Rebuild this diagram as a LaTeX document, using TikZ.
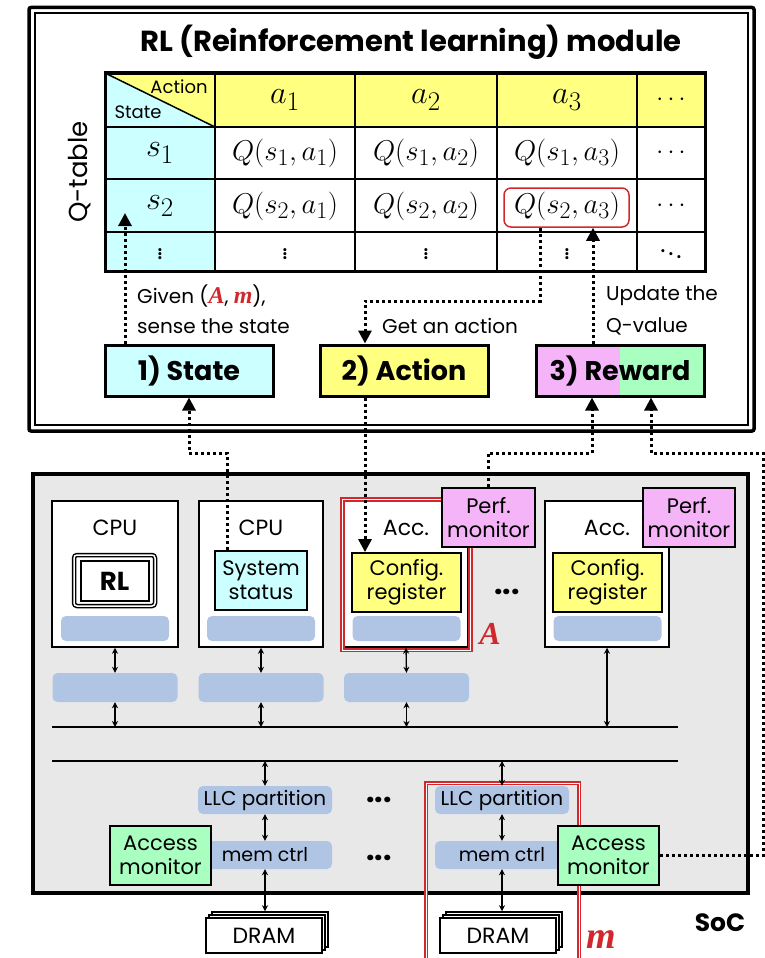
\documentclass[tikz,border=0pt]{standalone}
\usepackage[no-math]{fontspec}
\setmainfont{Poppins}
\newfontfamily\hlfont{Liberation Serif}
\usetikzlibrary{arrows.meta, shadows}

\definecolor{qcyan}{HTML}{CCFFFF}
\definecolor{qyellow}{HTML}{FFFF80}
\definecolor{qpink}{HTML}{F5B3F8}
\definecolor{qgreen}{HTML}{A8FFC0}
\definecolor{slotblue}{HTML}{B0C4E4}
\definecolor{socgray}{HTML}{E8E8E8}
\definecolor{hlred}{HTML}{D0282C}

\newcommand{\redvar}[1]{{\color{hlred}\fontsize{24}{24}\hlfont\bfseries\itshape #1}}

\begin{document}
\begin{tikzpicture}[x=1pt, y=-1pt,
  flow/.style={line width=3pt, dash pattern=on 3pt off 3pt, -{Triangle[length=13pt, width=13pt]}},
  link/.style={line width=1.3pt, {Stealth[length=6pt, width=6pt]}-{Stealth[length=6pt, width=6pt]}},
  modbox/.style={draw, line width=3pt, minimum width=168, minimum height=51, inner sep=0pt,
    font=\fontsize{27}{30}\selectfont\bfseries},
  unit/.style={draw, line width=1.5pt, fill=white, minimum height=146, inner sep=0pt},
  small/.style={draw, line width=1.8pt, minimum height=59, inner sep=0pt, align=center,
    font=\fontsize{21}{24}\selectfont},
  slot/.style={fill=slotblue, rounded corners=5pt, minimum height=25, inner sep=0pt},
  txt/.style={anchor=west, inner sep=0pt, font=\fontsize{20}{22}\selectfont},
  cell/.style={font=\fontsize{24.88}{28}\selectfont},
  hlframe/.style={draw=hlred, line width=1.8pt, double=white, double distance=0.8pt}]
  \useasboundingbox (0,0) rectangle (765,958);

  % RL module
  \draw[line width=3.5pt, rounded corners=2pt] (29,7.5) rectangle (754,431);
  \draw[line width=2pt] (35,13.5) rectangle (748,425);
  \node[font=\fontsize{29}{32}\selectfont\bfseries] (title) at (411,42) {RL (Reinforcement learning) module};

  % Q-table
  \fill[qyellow] (105,73) rectangle (705,127);
  \fill[qcyan] (105,127) rectangle (215,271);
  \fill[qcyan] (105,73) -- (215,127) -- (105,127) -- cycle;
  \draw[line width=1.5pt] (105,73) -- (215,127);
  \foreach \x in {215,355,497,637} \draw[line width=2.5pt] (\x,73) -- (\x,271);
  \foreach \y in {127,179,232} \draw[line width=2.5pt] (105,\y) -- (705,\y);
  \draw[line width=3pt] (105,73) rectangle (705,271);
  \node[font=\fontsize{18}{20}\selectfont] (acthead) at (179,87) {Action};
  \node[font=\fontsize{18}{20}\selectfont] (statehead) at (138,112) {State};
  \node[rotate=90, font=\fontsize{26}{28}\selectfont] (qtab) at (80,172) {Q-table};

  \foreach \c/\x in {1/285,2/426,3/567}
    \node[cell] (a\c) at (\x,100) {\scalebox{1.3}{$a_\c$}};
  \foreach \r/\y in {1/153,2/206} {
    \node[cell] (s\r) at (160,\y) {\scalebox{1.3}{$s_\r$}};
    \foreach \c/\x in {1/285,2/426,3/567}
      \node[cell] (q\r\c) at (\x,\y) {\scalebox{1.15}{$Q(s_\r,a_\c)$}};
  }
  \foreach \y in {100,153,206} \node[cell] (hd\y) at (671,\y) {$\cdots$};
  \foreach \x in {160,285,426,567} \node[cell] (vd\x) at (\x,251) {$\vdots$};
  \node[cell] (dd) at (671,251) {$\ddots$};
  \node[draw=hlred, line width=1.5pt, rounded corners=7pt, minimum width=125, minimum height=39,
    inner sep=0pt] (pick) at (566.5,207.5) {};

  % steps
  \node[modbox, fill=qcyan] (state) at (189,370.5) {1) State};
  \node[modbox, fill=qyellow] (action) at (404,370.5) {2) Action};
  \node[modbox, fill=qpink, path picture={\fill[qgreen] (path picture bounding box.north)
    rectangle (path picture bounding box.south east);}] (reward) at (620,370.5) {3) Reward};

  \node[txt] (given) at (137,296) {Given (\redvar{A}, \redvar{m}),};
  \node[txt] (sense) at (137,326) {sense the state};
  \node[txt] (getact) at (382,326) {Get an action};
  \node[txt] (upd1) at (606,296) {Update the};
  \node[txt] (upd2) at (606,326) {Q-value};

  \coordinate (s2tip) at (125,213);
  \draw[flow] (state.north -| s2tip) -- (s2tip);
  \coordinate (pickout) at ([xshift=-26.5pt]pick.south);
  \coordinate (getbend) at (365,301);
  \draw[flow] (pickout) |- (getbend) -- (getbend |- action.north);
  \coordinate (updtip) at ([xshift=26.5pt]pick.south);
  \draw[flow] (reward.north -| updtip) -- (updtip);

  % SoC
  \draw[fill=socgray, line width=3.5pt] (33,474) rectangle (748,893);
  \node[font=\fontsize{25}{28}\selectfont\bfseries] (soc) at (720,923) {SoC};

  \node[unit, minimum width=126] (cpuA) at (115,574) {};
  \node[unit, minimum width=124] (cpuB) at (261,574) {};
  \node[unit, minimum width=124] (accA) at (406,574) {};
  \node[unit, minimum width=124] (accB) at (607,574) {};
  \foreach \u/\t in {cpuA/CPU, cpuB/CPU, accA/Acc., accB/Acc.}
    \node[font=\fontsize{22}{24}\selectfont] (\u-t) at ([yshift=-28pt]\u.north) {\t};
  \draw[hlframe] (342.5,499.5) rectangle (470.5,650);

  \node[draw, line width=1.5pt, double, double distance=1.5pt, rounded corners=3pt,
    minimum width=81, minimum height=51] (rlout) at (114.5,580.5) {};
  \node[draw, line width=2pt, minimum width=68, minimum height=40,
    font=\fontsize{26}{28}\selectfont\bfseries] (rl) at (114.5,581) {RL};
  \node[small, fill=qcyan, minimum width=92] (sys) at (261,580.5) {System\\status};
  \node[small, fill=qyellow, minimum width=109] (cfgA) at (406.5,582.5) {Config.\\register};
  \node[small, fill=qyellow, minimum width=109] (cfgB) at (607.5,582.5) {Config.\\register};
  \node[small, fill=qpink, minimum width=93] (perfA) at (488.5,517.5) {Perf.\\monitor};
  \node[small, fill=qpink, minimum width=92] (perfB) at (689,517.5) {Perf.\\monitor};
  \node[font=\fontsize{30}{32}\selectfont\bfseries] (dotsA) at (507,592) {...};

  \foreach \n/\x in {A/115, B/261, C/406.5, D/607.5}
    \node[slot, minimum width=108] (slot\n) at (\x,628.5) {};
  \foreach \n/\x in {A/115, B/261, C/406.5}
    \node[slot, minimum width=125, minimum height=29] (mid\n) at (\x,687.5) {};

  \coordinate (busAw) at (52,727);
  \coordinate (busAe) at (678,727);
  \coordinate (busBw) at (52,761);
  \coordinate (busBe) at (678,761);
  \draw[line width=1.5pt] (busAw) -- (busAe);
  \draw[line width=1.5pt] (busBw) -- (busBe);

  \foreach \u/\m in {cpuA/midA, cpuB/midB, accA/midC} {
    \draw[link] (\u.south) -- (\m.north);
    \draw[link] (\m.south) -- (\m.south |- busAw);
  }
  \draw[link] (accB.south) -- (accB.south |- busAw);

  % memory side
  \draw[hlframe] (426,962) -- (426,783) -- (579,783) -- (579,962);
  \node[slot, minimum width=134, minimum height=28, font=\fontsize{20}{22}\selectfont] (llcA) at (265,800) {LLC partition};
  \node[slot, minimum width=134, minimum height=28, font=\fontsize{20}{22}\selectfont] (llcB) at (502,800) {LLC partition};
  \node[slot, minimum width=134, minimum height=28, font=\fontsize{19}{22}\selectfont] (memA) at (265,855) {mem ctrl};
  \node[slot, minimum width=134, minimum height=28, font=\fontsize{19}{22}\selectfont] (memB) at (502,855) {mem ctrl};
  \node[font=\fontsize{30}{32}\selectfont\bfseries] (dotsB) at (379,800) {...};
  \node[font=\fontsize{30}{32}\selectfont\bfseries] (dotsC) at (379,858) {...};
  \node[small, fill=qgreen, minimum width=101] (accmA) at (160.5,855.5) {Access\\monitor};
  \node[small, fill=qgreen, minimum width=101] (accmB) at (608.5,855.5) {Access\\monitor};

  \node[draw, line width=1.5pt, fill=white, minimum width=116, minimum height=35,
    double copy shadow={shadow xshift=3pt, shadow yshift=3pt, draw, fill=white, line width=1.5pt},
    font=\fontsize{22}{24}\selectfont] (dramA) at (264,935.5) {DRAM};
  \node[draw, line width=1.5pt, fill=white, minimum width=116, minimum height=35,
    double copy shadow={shadow xshift=3pt, shadow yshift=3pt, draw, fill=white, line width=1.5pt},
    font=\fontsize{22}{24}\selectfont] (dramB) at (498,935.5) {DRAM};

  \foreach \n in {A,B} {
    \draw[link] (llc\n.north |- busBw) -- (llc\n.north);
    \draw[link] (llc\n.south) -- (mem\n.north);
    \coordinate (dramtop\n) at ([yshift=6pt]dram\n.north);
    \draw[link] (mem\n.south) -- (mem\n.south |- dramtop\n);
  }

  \node[text=hlred, font=\fontsize{32}{34}\hlfont\bfseries\itshape] (labA) at (490,634) {A};
  \node[text=hlred, font=\fontsize{38}{40}\hlfont\bfseries\itshape] (labm) at (601,940) {m};

  % feedback paths
  \coordinate (lvl) at (0,453);
  \coordinate (sysout) at ([xshift=-34pt]sys.north);
  \draw[flow] (sysout) -- (sysout |- lvl) -| (state.south);
  \coordinate (actout) at ([xshift=-39pt]action.south);
  \draw[flow] (actout) -- (actout |- cfgA.north);
  \coordinate (rwinA) at ([xshift=-28pt]reward.south);
  \draw[flow] (perfA.north) -- (perfA.north |- lvl) -| (rwinA);
  \coordinate (rwinB) at ([xshift=31pt]reward.south);
  \coordinate (edge) at (763,0);
  \draw[flow] (accmB.east) -- (accmB.east -| edge) |- (rwinB |- lvl) -- (rwinB);
\end{tikzpicture}
\end{document}
